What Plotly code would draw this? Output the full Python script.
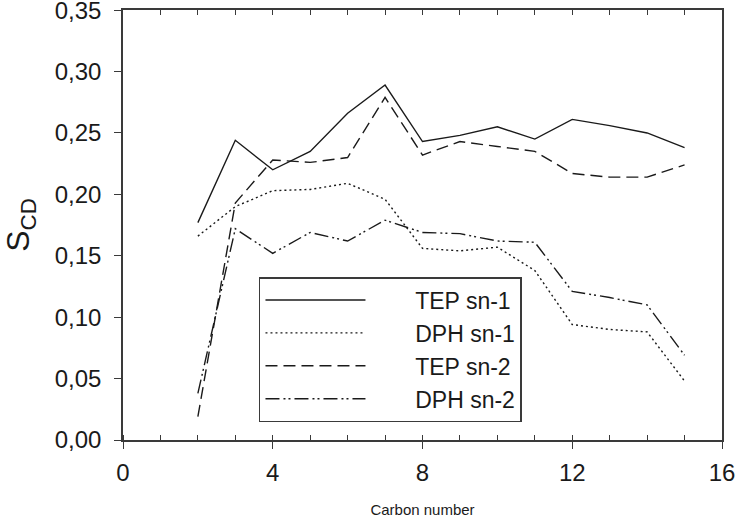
import plotly.graph_objects as go

# carbon positions along the acyl chain
carbon = [2, 3, 4, 5, 6, 7, 8, 9, 10, 11, 12, 13, 14, 15]

# order parameters
tep_sn1 = [0.177, 0.244, 0.220, 0.235, 0.266, 0.289, 0.243, 0.248, 0.255, 0.245, 0.261, 0.256, 0.250, 0.238]
dph_sn1 = [0.166, 0.190, 0.203, 0.204, 0.209, 0.196, 0.156, 0.154, 0.157, 0.138, 0.094, 0.090, 0.088, 0.048]
tep_sn2 = [0.019, 0.193, 0.228, 0.226, 0.230, 0.279, 0.232, 0.243, 0.239, 0.235, 0.217, 0.214, 0.214, 0.224]
dph_sn2 = [0.038, 0.172, 0.152, 0.169, 0.162, 0.179, 0.169, 0.168, 0.162, 0.161, 0.121, 0.116, 0.110, 0.069]

series_names = ['TEP sn-1', 'DPH sn-1', 'TEP sn-2', 'DPH sn-2']

LINE_COLOR = '#1a1a1a'
AXIS_COLOR = '#3a3a3a'
FONT = 'Liberation Sans, Arial, sans-serif'

dashes = ['solid', '2px,3px', '12px,6px', '14px,4px,2px,3px,2px,4px']

# the legend text sits well to the right of the line sample in the original
LEGEND_PAD = '\u00a0' * 7

fig = go.Figure()
for name, values, dash in zip(series_names, [tep_sn1, dph_sn1, tep_sn2, dph_sn2], dashes):
	fig.add_trace(go.Scatter(x=carbon, y=values, name=LEGEND_PAD + name, mode='lines',
							 line=dict(color=LINE_COLOR, width=1.4, dash=dash)))

# invisible trace on a top axis, only used to draw the inside ticks along the top
fig.add_trace(go.Scatter(x=[0, 16], y=[0, 0], xaxis='x2', mode='lines',
						 line=dict(width=0), showlegend=False, hoverinfo='skip'))

fig.update_layout(
	width=736, height=525,
	margin=dict(l=123, r=14, t=10, b=85, autoexpand=False),
	paper_bgcolor='white', plot_bgcolor='white',
	separators=', ',
	font=dict(family=FONT, color='#1a1a1a'),
	showlegend=True,
	legend=dict(x=0.227, y=0.379, xanchor='left', yanchor='top',
				bordercolor=AXIS_COLOR, borderwidth=1.5, bgcolor='white',
				font=dict(size=23, family=FONT), itemwidth=100,
				tracegroupgap=0),
)

fig.update_layout(xaxis=dict(
	range=[0, 16], tick0=0, dtick=4, automargin=False,
	showgrid=False, zeroline=False,
	showline=True, linecolor=AXIS_COLOR, linewidth=1.5, mirror=True,
	ticks='outside', ticklen=7, tickcolor=AXIS_COLOR, tickwidth=1.2,
	minor=dict(ticks='inside', tick0=0, dtick=1, ticklen=5, tickcolor=AXIS_COLOR, tickwidth=1.2, showgrid=False),
	tickfont=dict(size=24), ticklabelstandoff=3, ticklabeloverflow='allow',
	title=dict(text='Carbon number', font=dict(size=15), standoff=20),
))

fig.update_layout(xaxis2=dict(
	overlaying='x', side='top', range=[0, 16], tick0=0, dtick=1, automargin=False,
	showgrid=False, zeroline=False, showline=False, showticklabels=False,
	ticks='inside', ticklen=5, tickcolor=AXIS_COLOR, tickwidth=1.2,
))

fig.update_layout(yaxis=dict(
	range=[0, 0.3501], tick0=0, dtick=0.05, tickformat='.2f', automargin=False,
	showgrid=False, zeroline=False,
	showline=True, linecolor=AXIS_COLOR, linewidth=1.5, mirror=True,
	ticks='outside', ticklen=7, tickcolor=AXIS_COLOR, tickwidth=1.2,
	tickfont=dict(size=24), ticklabelstandoff=8, ticklabeloverflow='allow',
	title=dict(text='S<sub>CD</sub>', font=dict(size=32), standoff=20),
))

# the page's default body margin would push the fixed-size figure off the window
fig.write_html("out.html", config={'displayModeBar': False},
			   post_script="document.body.style.margin='0';")
